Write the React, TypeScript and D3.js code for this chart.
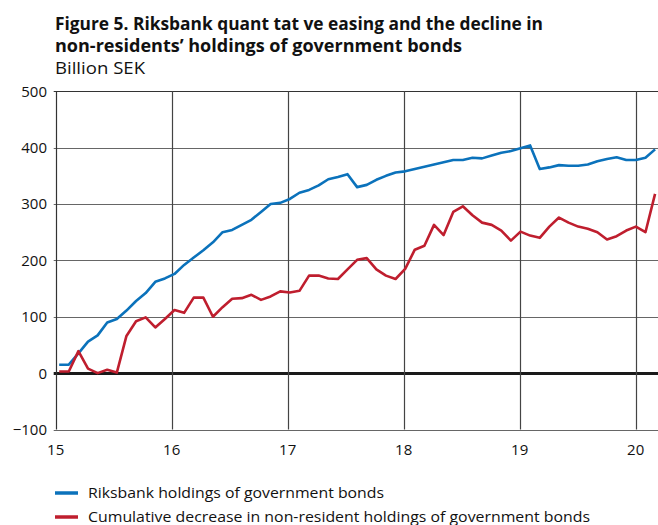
import React from "react";
import * as d3 from "d3";

// Monthly observations, Jan 2015 – Mar 2020 (billion SEK)
const riksbankHoldings = [
  15, 15, 35, 56, 67, 90, 96, 111, 128, 142, 162, 168,
  176, 192, 205, 218, 232, 250, 254, 263, 272, 286, 300, 302,
  309, 320, 325, 333, 344, 348, 353, 330, 334, 343, 350, 356,
  358, 362, 366, 370, 374, 378, 378, 382, 381, 386, 391, 394,
  399, 404, 362, 365, 369, 368, 368, 370, 376, 380, 383, 378,
  378, 382, 397,
];
const nonResidentDecrease = [
  3, 3, 39, 8, 0, 6, 1, 66, 92, 99, 81, 96,
  112, 107, 134, 134, 100, 117, 132, 133, 139, 130, 136, 145,
  143, 146, 173, 173, 168, 167, 184, 201, 204, 184, 173, 167,
  185, 219, 226, 263, 245, 286, 296, 280, 267, 263, 253, 235,
  251, 244, 240, 260, 276, 267, 260, 256, 250, 237, 243, 253,
  260, 250, 318,
];
const firstObs = 15.03; // year position of first observation
const lastObs = 20.167; // year position of last observation

const yTicks = [500, 400, 300, 200, 100, 0, -100];
const xTicks = [15, 16, 17, 18, 19, 20];

const titleLines = [
  "Figure 5. Riksbank quant tat ve easing and the decline in",
  "non-residents’ holdings of government bonds",
];
const unitLabel = "Billion SEK";
const seriesNames = [
  "Riksbank holdings of government bonds",
  "Cumulative decrease in non-resident holdings of government bonds",
];
const seriesColors = ["#0b72bb", "#bf1e2e"];

const W = 658;
const H = 525;
const left = 55.7;
const top = 91.3;
const bottom = 429.5;

export default function App() {
  const x = d3.scaleLinear().domain([15, 20]).range([left, 635.7]);
  const y = d3.scaleLinear().domain([-100, 500]).range([bottom, top]);
  const n = riksbankHoldings.length;
  const t = d3.scaleLinear().domain([0, n - 1]).range([firstObs, lastObs]);
  const line = d3
    .line<number>()
    .x((_, i) => x(t(i)))
    .y((d) => y(d));
  const series = [riksbankHoldings, nonResidentDecrease];
  const font = "'Open Sans', 'Noto Sans', sans-serif";

  return (
    <svg
      width={W}
      height={H}
      style={{ position: "absolute", left: 0, top: 0, background: "#fff" }}
      fontFamily={font}
    >
      <defs>
        <clipPath id="plot">
          <rect x={left} y={0} width={W - left} height={H} />
        </clipPath>
      </defs>
      {/* Title */}
      <text x={55} y={30} fontSize={18} fontWeight="bold" fill="#111" textLength={488} lengthAdjust="spacingAndGlyphs">
        {titleLines[0]}
      </text>
      <text x={55} y={52} fontSize={18} fontWeight="bold" fill="#111" textLength={407} lengthAdjust="spacingAndGlyphs">
        {titleLines[1]}
      </text>
      <text x={55} y={74} fontSize={16} fill="#111" textLength={90} lengthAdjust="spacingAndGlyphs">
        {unitLabel}
      </text>

      {/* Horizontal grid */}
      {yTicks.map((v) => (
        <line
          key={"h" + v}
          x1={left - 2}
          x2={W}
          y1={Math.round(y(v)) + 0.5}
          y2={Math.round(y(v)) + 0.5}
          stroke={v === 0 ? "#1a1a1a" : v === 500 ? "#333" : "#666"}
          strokeWidth={v === 0 ? 3 : 1.2}
        />
      ))}
      {/* Vertical grid */}
      {xTicks.map((v) => (
        <line
          key={"v" + v}
          x1={Math.round(x(v)) + 0.5}
          x2={Math.round(x(v)) + 0.5}
          y1={top}
          y2={bottom}
          stroke={v === 15 ? "#333" : "#444"}
          strokeWidth={1.2}
        />
      ))}

      {/* Y tick labels */}
      {yTicks.map((v) => (
        <text
          key={"yl" + v}
          x={47}
          y={y(v)}
          dy="0.36em"
          fontSize={15}
          textAnchor="end"
          fill="#111"
        >
          {v < 0 ? "−" + Math.abs(v) : v}
        </text>
      ))}
      {/* X tick labels */}
      {xTicks.map((v) => (
        <text
          key={"xl" + v}
          x={x(v)}
          y={455}
          fontSize={15}
          textAnchor="middle"
          fill="#111"
        >
          {v}
        </text>
      ))}

      {/* Series */}
      <g clipPath="url(#plot)">
        {series.map((s, k) => (
          <path
            key={"s" + k}
            d={line(s) || ""}
            fill="none"
            stroke={seriesColors[k]}
            strokeWidth={2.6}
            strokeLinejoin="round"
          />
        ))}
      </g>

      {/* Legend */}
      {seriesNames.map((name, k) => (
        <g key={"lg" + k} transform={`translate(0, ${493 + k * 24})`}>
          <line x1={55} x2={78} y1={0} y2={0} stroke={seriesColors[k]} strokeWidth={3.5} />
          <text x={88} y={0} dy="0.35em" fontSize={15} fill="#111" textLength={k === 0 ? 296 : 502} lengthAdjust="spacingAndGlyphs">
            {name}
          </text>
        </g>
      ))}
    </svg>
  );
}
